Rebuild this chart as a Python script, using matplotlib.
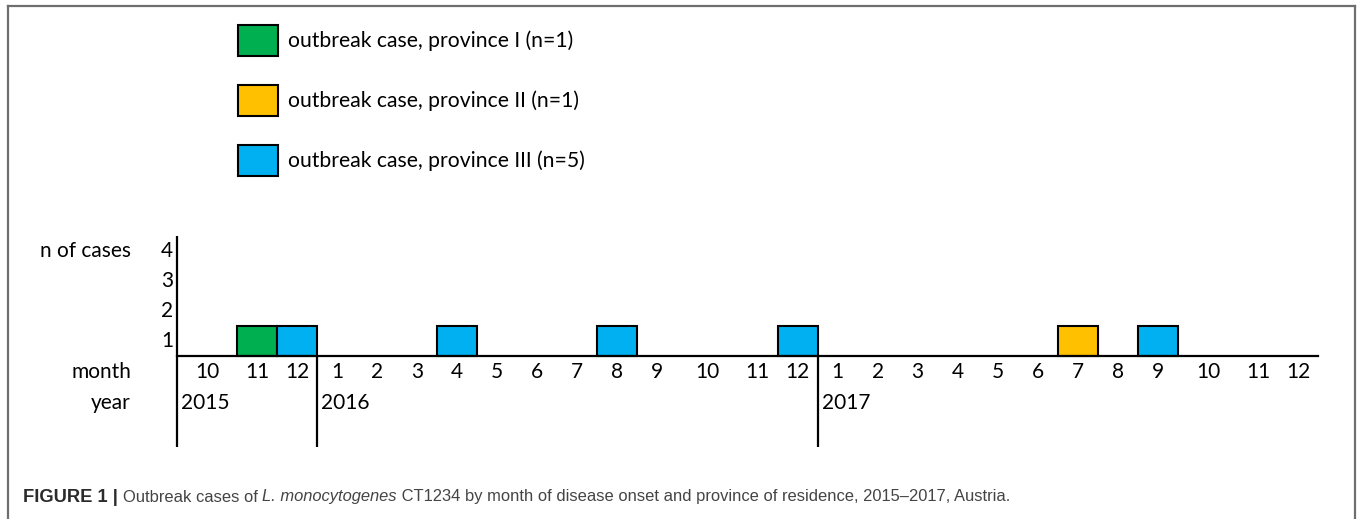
import numpy as np
import matplotlib.pyplot as plt
from matplotlib.patches import Rectangle
from matplotlib.lines import Line2D

# --- datos ---
years = [2015] * 3 + [2016] * 12 + [2017] * 12
months = [10, 11, 12] + list(range(1, 13)) * 2
cases_I = [(2015, 11)]
cases_II = [(2017, 7)]
cases_III = [(2015, 12), (2016, 4), (2016, 8), (2016, 12), (2017, 9)]
province_cases = [cases_I, cases_II, cases_III]
legend_labels = ['outbreak case, province I (n=1)',
                 'outbreak case, province II (n=1)',
                 'outbreak case, province III (n=5)']
colors = ['#00B050', '#FFC000', '#00B0F0']
case_ticks = [1, 2, 3, 4]
caption_parts = [('FIGURE 1 | ', 'bold', 'normal', '#2b2b2b', 13.2),
                 ('Outbreak cases of ', 'normal', 'normal', '#444444', 11.9),
                 ('L. monocytogenes', 'normal', 'italic', '#444444', 11.9),
                 (' CT1234 by month of disease onset and province of residence, 2015\u20132017, Austria.',
                  'normal', 'normal', '#444444', 11.9)]

W, H = 1358, 519
FONT = 'Lato'
FS = 15


def px(x, y):
    return x / W, 1 - y / H


fig = plt.figure(figsize=(W / 100, H / 100), dpi=100)

# marco gris (abierto abajo)
for xs, ys in [([7.5, 7.5], [H + 5, 6]), ([7.5, 1355], [6, 6]), ([1355, 1355], [6, H + 5])]:
    fig.add_artist(Line2D([x / W for x in xs], [1 - y / H for y in ys],
                          color='#6e6e6e', lw=1.6, transform=fig.transFigure))

# --- leyenda ---
for i, (lab, c) in enumerate(zip(legend_labels, colors)):
    top = 24.5 + 60.3 * i
    x0, y0 = px(238, top + 31)
    fig.add_artist(Rectangle((x0, y0), 40 / W, 31 / H, facecolor=c, edgecolor='black',
                             lw=1.5, transform=fig.transFigure))
    tx, ty = px(288, top + 16)
    fig.text(tx, ty, lab, fontsize=FS + 0.2, family=FONT, va='center', ha='left')

# --- eje principal ---
widths = np.array([1.5 if m == 10 else 1.0 for m in months])
edges = np.concatenate([[0], np.cumsum(widths)])
centers = edges[:-1] + widths / 2
index = {(y, m): i for i, (y, m) in enumerate(zip(years, months))}

ax_left, ax_right, ax_top, ax_bot = 177, 1318, 236, 447
ax = fig.add_axes([ax_left / W, 1 - ax_bot / H, (ax_right - ax_left) / W, (ax_bot - ax_top) / H])
ymin, ymax = -(ax_bot - 356) / 30, 4.0
ax.set_xlim(0, edges[-1])
ax.set_ylim(ymin, ymax)
ax.axis('off')

bottom = np.zeros(len(months))
for cases, c in zip(province_cases, colors):
    counts = np.zeros(len(months))
    for yc in cases:
        counts[index[yc]] += 1
    mask = counts > 0
    ax.bar(edges[:-1][mask], counts[mask], width=widths[mask], bottom=bottom[mask],
           align='edge', color=c, edgecolor='black', linewidth=1.5, zorder=3)
    bottom += counts

lw = 1.6
ax.plot([0, 0], [ymin, ymax], color='black', lw=lw, clip_on=False, solid_capstyle='butt')
ax.plot([0, edges[-1]], [0, 0], color='black', lw=lw, clip_on=False, zorder=4)
for i, m in enumerate(months):
    if m == 1:
        ax.plot([edges[i]] * 2, [ymin, 0], color='black', lw=lw, clip_on=False, solid_capstyle='butt')

for k in case_ticks:
    ax.text(-0.25, k - 0.5, str(k), fontsize=FS, family=FONT, ha='center', va='center')
for cx, m in zip(centers, months):
    ax.text(cx, -0.53, str(m), fontsize=FS, family=FONT, ha='center', va='center')
for i, (y, m) in enumerate(zip(years, months)):
    if i == 0 or m == 1:
        ax.text(edges[i] + 0.1, -1.57, str(y), fontsize=FS, family=FONT, ha='left', va='center')

xl = -(ax_left - 131) / 40.0
ax.text(xl, 3.5, 'n of cases', fontsize=FS, family=FONT, ha='right', va='center', clip_on=False)
ax.text(xl, -0.53, 'month', fontsize=FS, family=FONT, ha='right', va='center', clip_on=False)
ax.text(xl, -1.57, 'year', fontsize=FS, family=FONT, ha='right', va='center', clip_on=False)

# --- pie de figura ---
renderer = fig.canvas.get_renderer()
cx_px = 23
cy = 1 - 497 / H
for txt, weight, style, col, size in caption_parts:
    t = fig.text(cx_px / W, cy, txt, fontsize=size, family='Liberation Sans', fontweight=weight,
                 fontstyle=style, color=col, ha='left', va='center')
    bb = t.get_window_extent(renderer)
    cx_px += bb.width

fig.savefig('out.png', dpi=100)
